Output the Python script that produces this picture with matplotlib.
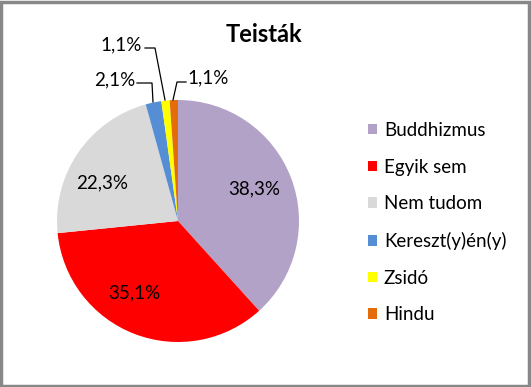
import matplotlib
matplotlib.use("Agg")
from matplotlib import pyplot as plt
from matplotlib.patches import Rectangle, Patch

# data
labels = ['Buddhizmus', 'Egyik sem', 'Nem tudom', 'Kereszt(y)én(y)', 'Zsidó', 'Hindu']
values = [38.3, 35.1, 22.3, 2.1, 1.1, 1.1]
colors = ['#B3A2C7', '#FF0000', '#D9D9D9', '#558ED5', '#FFFF00', '#E46C0A']
pct_labels = ['38,3%', '35,1%', '22,3%', '2,1%', '1,1%', '1,1%']

W, H = 531, 387
plt.rcParams['font.family'] = ['Lato', 'DejaVu Sans']

fig = plt.figure(figsize=(W / 100, H / 100), dpi=100)

# pie centre (178, 221) px, radius 121 px
cx, cy, r = 178, 221, 121
ax = fig.add_axes([(cx - r) / W, (H - cy - r) / H, 2 * r / W, 2 * r / H])
ax.pie(values, colors=colors, startangle=90, counterclock=False, radius=1.0,
       wedgeprops=dict(linewidth=0))
ax.set_xlim(-1, 1)
ax.set_ylim(-1, 1)
ax.set_aspect('auto')
ax.axis('off')


def px(x, y):
    return ((x - cx) / r, (cy - y) / r)


# labels inside the big slices (centre x, baseline y)
inside = [(254, 194), (134, 298), (102, 188)]
for (x, y), t in zip(inside, pct_labels[:3]):
    ax.text(*px(x, y), t, ha='center', va='baseline', fontsize=13.5, clip_on=False)

# small slices with leader lines
small = [
    ((115, 85), [(137, 83), (152, 83), (153, 102)]),
    ((121, 50), [(145, 48), (155, 48), (165, 100)]),
    ((208, 83), [(186, 82), (177, 82), (173, 100)]),
]
for (pos, line), t in zip(small, pct_labels[3:]):
    ax.text(*px(*pos), t, ha='center', va='baseline', fontsize=13.5, clip_on=False)
    xs = [px(*p)[0] for p in line]
    ys = [px(*p)[1] for p in line]
    ax.plot(xs, ys, color='black', linewidth=0.9, clip_on=False)

fig.text(264 / W, 1 - 42 / H, 'Teisták', ha='center', va='baseline',
         fontsize=17, fontweight='bold')

handles = [Patch(facecolor=c, edgecolor='none') for c in colors]
fig.legend(handles, labels, loc='upper left', bbox_to_anchor=(351 / W, 1 - 105 / H),
           frameon=False, fontsize=13.5, handlelength=0.48, handleheight=0.48,
           handletextpad=0.37, labelspacing=1.05)

# grey frame
fig.patches.append(Rectangle((0.002, 0.003), 0.994, 0.993, transform=fig.transFigure,
                             fill=False, edgecolor='#888888', linewidth=2.5))

fig.savefig('out.png', dpi=100)
